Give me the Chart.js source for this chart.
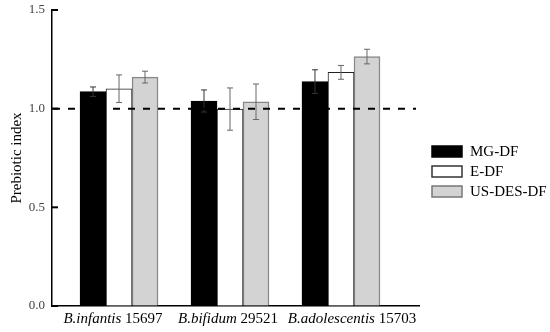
<!DOCTYPE html>
<html>
<head>
<meta charset="utf-8">
<script src="https://cdn.jsdelivr.net/npm/chart.js@4.4.0/dist/chart.umd.min.js"></script>
<style>
  html, body { margin: 0; padding: 0; background: #fff; }
  #wrap { width: 550px; height: 332px; }
</style>
</head>
<body>
<div id="wrap"><canvas id="myChart" width="550" height="332"></canvas></div>
<script>
// strain names: italic part + number
const strains = ['B.infantis', 'B.bifidum', 'B.adolescentis']
const strainNums = ['15697', '29521', '15703']
const positions = [1, 2, 3]

const seriesNames = ['MG-DF', 'E-DF', 'US-DES-DF']
const mgValues = [1.086, 1.039, 1.137]
const mgErrors = [0.024, 0.056, 0.060]
const eValues = [1.101, 0.998, 1.184]
const eErrors = [0.070, 0.107, 0.035]
const usValues = [1.160, 1.035, 1.264]
const usErrors = [0.030, 0.090, 0.037]

const yTicks = [0, 0.5, 1.0, 1.5]
const refLine = 1.0

const serif = "'Liberation Serif', 'Times New Roman', serif"

function points(vals) {
  return vals.map((v, i) => ({ x: positions[i], y: v }))
}

// error bars, dashed reference line, inner ticks, category labels, legend
const extras = {
  id: 'extras',
  afterDatasetsDraw(chart) {
    const ctx = chart.ctx
    const xs = chart.scales.x, ys = chart.scales.y
    const area = chart.chartArea

    ctx.save()
    chart.data.datasets.forEach((ds, di) => {
      const meta = chart.getDatasetMeta(di)
      meta.data.forEach((bar, i) => {
        const v = ds.data[i].y, e = ds.errors[i]
        const top = ys.getPixelForValue(v + e)
        const bot = ys.getPixelForValue(v - e)
        ctx.strokeStyle = ds.errorColor
        ctx.lineWidth = 1
        ctx.beginPath()
        ctx.moveTo(bar.x, top); ctx.lineTo(bar.x, bot)
        ctx.moveTo(bar.x - 3, top); ctx.lineTo(bar.x + 3, top)
        ctx.moveTo(bar.x - 3, bot); ctx.lineTo(bar.x + 3, bot)
        ctx.stroke()
      })
    })

    // dashed line at 1.0
    const yRef = ys.getPixelForValue(refLine)
    ctx.strokeStyle = '#000'
    ctx.lineWidth = 2
    ctx.setLineDash([7, 8])
    ctx.beginPath()
    ctx.moveTo(area.left + 1, yRef)
    ctx.lineTo(area.right - 3, yRef)
    ctx.stroke()
    ctx.setLineDash([])

    // inward tick marks on the y axis
    ctx.lineWidth = 2
    yTicks.forEach((t) => {
      const py = ys.getPixelForValue(t)
      ctx.beginPath()
      ctx.moveTo(area.left, py)
      ctx.lineTo(area.left + 6, py)
      ctx.stroke()
    })

    // category labels: italic name + upright number (nudged like the original)
    const nudge = [-6, -2, 11]
    ctx.fillStyle = '#000'
    ctx.textBaseline = 'middle'
    ctx.textAlign = 'left'
    strains.forEach((s, i) => {
      const cx = xs.getPixelForValue(positions[i]) + nudge[i]
      ctx.font = 'italic 15px ' + serif
      const w1 = ctx.measureText(s).width
      ctx.font = '15px ' + serif
      const w2 = ctx.measureText(' ' + strainNums[i]).width
      let x0 = cx - (w1 + w2) / 2
      ctx.font = 'italic 15px ' + serif
      ctx.fillText(s, x0, 319)
      ctx.font = '15px ' + serif
      ctx.fillText(' ' + strainNums[i], x0 + w1, 319)
    })

    // legend
    chart.data.datasets.forEach((ds, di) => {
      const by = 146 + di * 20
      ctx.fillStyle = ds.backgroundColor
      ctx.fillRect(432, by, 30, 11)
      ctx.strokeStyle = ds.legendBorder
      ctx.lineWidth = 1.5
      ctx.strokeRect(432, by, 30, 11)
      ctx.fillStyle = '#000'
      ctx.font = '15px ' + serif
      ctx.fillText(ds.label, 470, by + 6)
    })
    ctx.restore()
  }
}

var ctx = document.getElementById('myChart').getContext('2d')

var myChart = new Chart(ctx, {
  type: 'bar',
  data: {
    datasets: [
      { label: seriesNames[0], data: points(mgValues), errors: mgErrors,
        backgroundColor: '#000', borderColor: '#000', borderWidth: 1,
        errorColor: '#333', legendBorder: '#000' },
      { label: seriesNames[1], data: points(eValues), errors: eErrors,
        backgroundColor: '#fff', borderColor: '#222', borderWidth: 1,
        errorColor: '#666', legendBorder: '#333' },
      { label: seriesNames[2], data: points(usValues), errors: usErrors,
        backgroundColor: '#d3d3d3', borderColor: '#888', borderWidth: 1.5,
        errorColor: '#666', legendBorder: '#777' }
    ]
  },
  options: {
    responsive: false,
    animation: false,
    barThickness: 26,
    layout: { padding: { top: 10, right: 131, left: 0, bottom: 0 } },
    plugins: { legend: { display: false }, tooltip: { enabled: false } },
    scales: {
      x: {
        type: 'linear',
        offset: false,
        min: 0.396,
        max: 3.703,
        grid: { display: false, drawTicks: false },
        border: { display: true, color: '#000', width: 1.5 },
        ticks: { display: false },
        afterFit: (scale) => { scale.height = 26 }
      },
      y: {
        min: 0,
        max: 1.5,
        grid: { drawOnChartArea: false, drawTicks: false },
        border: { display: true, color: '#000', width: 1.5 },
        afterBuildTicks: (scale) => { scale.ticks = yTicks.map((v) => ({ value: v })) },
        ticks: {
          padding: 7,
          color: '#444',
          font: { family: serif, size: 13 },
          callback: (v) => Number(v).toFixed(1)
        },
        title: {
          display: true,
          text: 'Prebiotic index',
          color: '#000',
          font: { family: serif, size: 15 },
          padding: { top: 8, bottom: 0 }
        },
        afterFit: (scale) => {
          scale.width = 52
          scale.paddingTop = 0
          scale.paddingBottom = 0
        }
      }
    }
  },
  plugins: [extras]
})
</script>
</body>
</html>
